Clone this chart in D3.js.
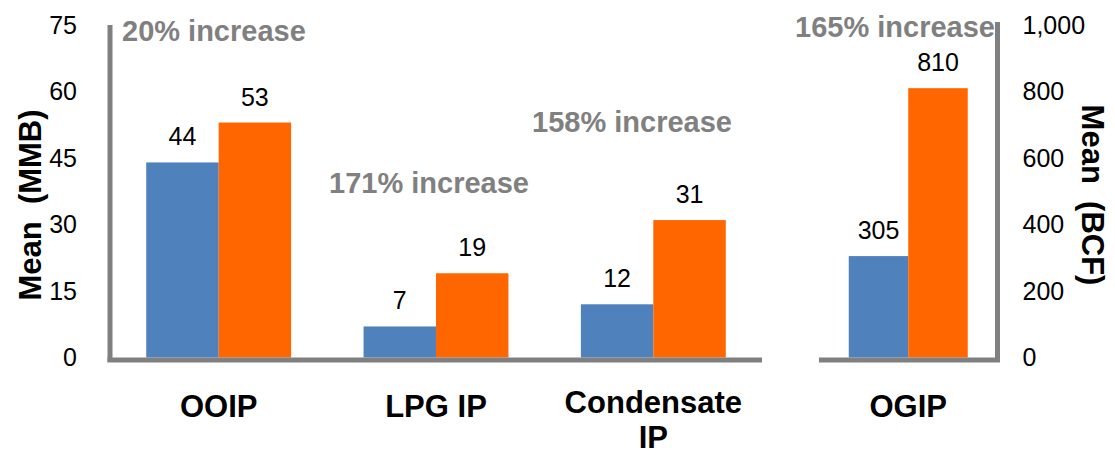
<!DOCTYPE html>
<html lang="en">
<head>
<meta charset="UTF-8">
<title>Mean volumes</title>
<style>
  * { margin: 0; padding: 0; }
  body { background: #fff; width: 1115px; height: 455px; overflow: hidden; font-family: "Liberation Sans", Arial, sans-serif; }
  svg { display: block; }
  .tick text { font-size: 25px; fill: #000; }
  .vlabel { font-size: 25px; fill: #000; text-anchor: middle; }
  .cat { font-size: 31px; font-weight: bold; fill: #000; text-anchor: middle; }
  .note { font-size: 29px; font-weight: bold; fill: #808080; }
  .title { font-size: 31px; font-weight: bold; fill: #000; text-anchor: middle; }
</style>
</head>
<body>
<svg id="chart" width="1115" height="455"></svg>
<script src="https://d3js.org/d3.v7.min.js"></script>
<script>
// left axis (MMB) categories
const leftCats = ['OOIP', 'LPG IP', 'Condensate IP'];
const leftBefore = [44, 7, 12];
const leftAfter = [53, 19, 31];
// right axis (BCF) category
const rightCats = ['OGIP'];
const rightBefore = [305];
const rightAfter = [810];

const leftTicks = [0, 15, 30, 45, 60, 75];
const rightTicks = [0, 200, 400, 600, 800, 1000];
const notes = ['20% increase', '171% increase', '158% increase', '165% increase'];

const BLUE = '#4f81bd', ORANGE = '#ff6600', GRAY = '#808080';

const svg = d3.select('#chart');

const yL = d3.scaleLinear().domain([0, 75]).range([357.5, 25]);
const yR = d3.scaleLinear().domain([0, 1000]).range([357.5, 25]);

const xL = d3.scaleBand().domain(leftCats).range([110, 762]);
const xR = d3.scaleBand().domain(rightCats).range([819, 997.5]);

function drawGroup(x, y, cats, before, after) {
  const sub = d3.scaleBand().domain(['b', 'a'])
    .range([x.bandwidth() / 6, x.bandwidth() * 5 / 6]);
  cats.forEach((c, i) => {
    const g = svg.append('g').attr('transform', `translate(${x(c)},0)`);
    [['b', before[i], BLUE], ['a', after[i], ORANGE]].forEach(([k, v, col]) => {
      g.append('rect')
        .attr('x', sub(k)).attr('width', sub.bandwidth())
        .attr('y', y(v)).attr('height', y(0) - y(v))
        .attr('fill', col);
      g.append('text').attr('class', 'vlabel')
        .attr('x', sub(k) + sub.bandwidth() / 2)
        .attr('y', y(v) - 17)
        .text(v);
    });
    // category labels; "Condensate IP" wraps onto two lines
    const cx = x.bandwidth() / 2;
    if (c === 'Condensate IP') {
      g.append('text').attr('class', 'cat').attr('x', cx).attr('y', 413).text('Condensate');
      g.append('text').attr('class', 'cat').attr('x', cx).attr('y', 448).text('IP');
    } else {
      g.append('text').attr('class', 'cat').attr('x', cx).attr('y', 417).text(c);
    }
  });
}

drawGroup(xL, yL, leftCats, leftBefore, leftAfter);
drawGroup(xR, yR, rightCats, rightBefore, rightAfter);

// axes
const axL = svg.append('g').attr('transform', 'translate(110,0)')
  .call(d3.axisLeft(yL).tickValues(leftTicks).tickSize(0).tickPadding(33));
axL.select('.domain').remove();

const axR = svg.append('g').attr('transform', 'translate(997.5,0)')
  .call(d3.axisRight(yR).tickValues(rightTicks).tickSize(0).tickPadding(25).tickFormat(d3.format(',')));
axR.select('.domain').remove();

// axis lines
const line = (x1, y1, x2, y2) => svg.append('line')
  .attr('x1', x1).attr('y1', y1).attr('x2', x2).attr('y2', y2)
  .attr('stroke', GRAY).attr('stroke-width', 5);
line(110, 25, 110, 362);
line(107.5, 360, 762, 360);
line(819, 360, 1000, 360);
line(997.5, 22, 997.5, 362);

// notes
const notePos = [[122, 41], [329, 193], [532, 132], [795, 37]];
notes.forEach((n, i) => {
  svg.append('text').attr('class', 'note')
    .attr('x', notePos[i][0]).attr('y', notePos[i][1]).text(n);
});

// axis titles
svg.append('text').attr('class', 'title')
  .attr('transform', 'translate(30,205) rotate(-90)')
  .attr('dominant-baseline', 'central')
  .text('Mean\u00a0\u00a0(MMB)');
svg.append('text').attr('class', 'title')
  .attr('transform', 'translate(1092,195) rotate(90)')
  .attr('dominant-baseline', 'central')
  .text('Mean\u00a0\u00a0(BCF)');
</script>
</body>
</html>
